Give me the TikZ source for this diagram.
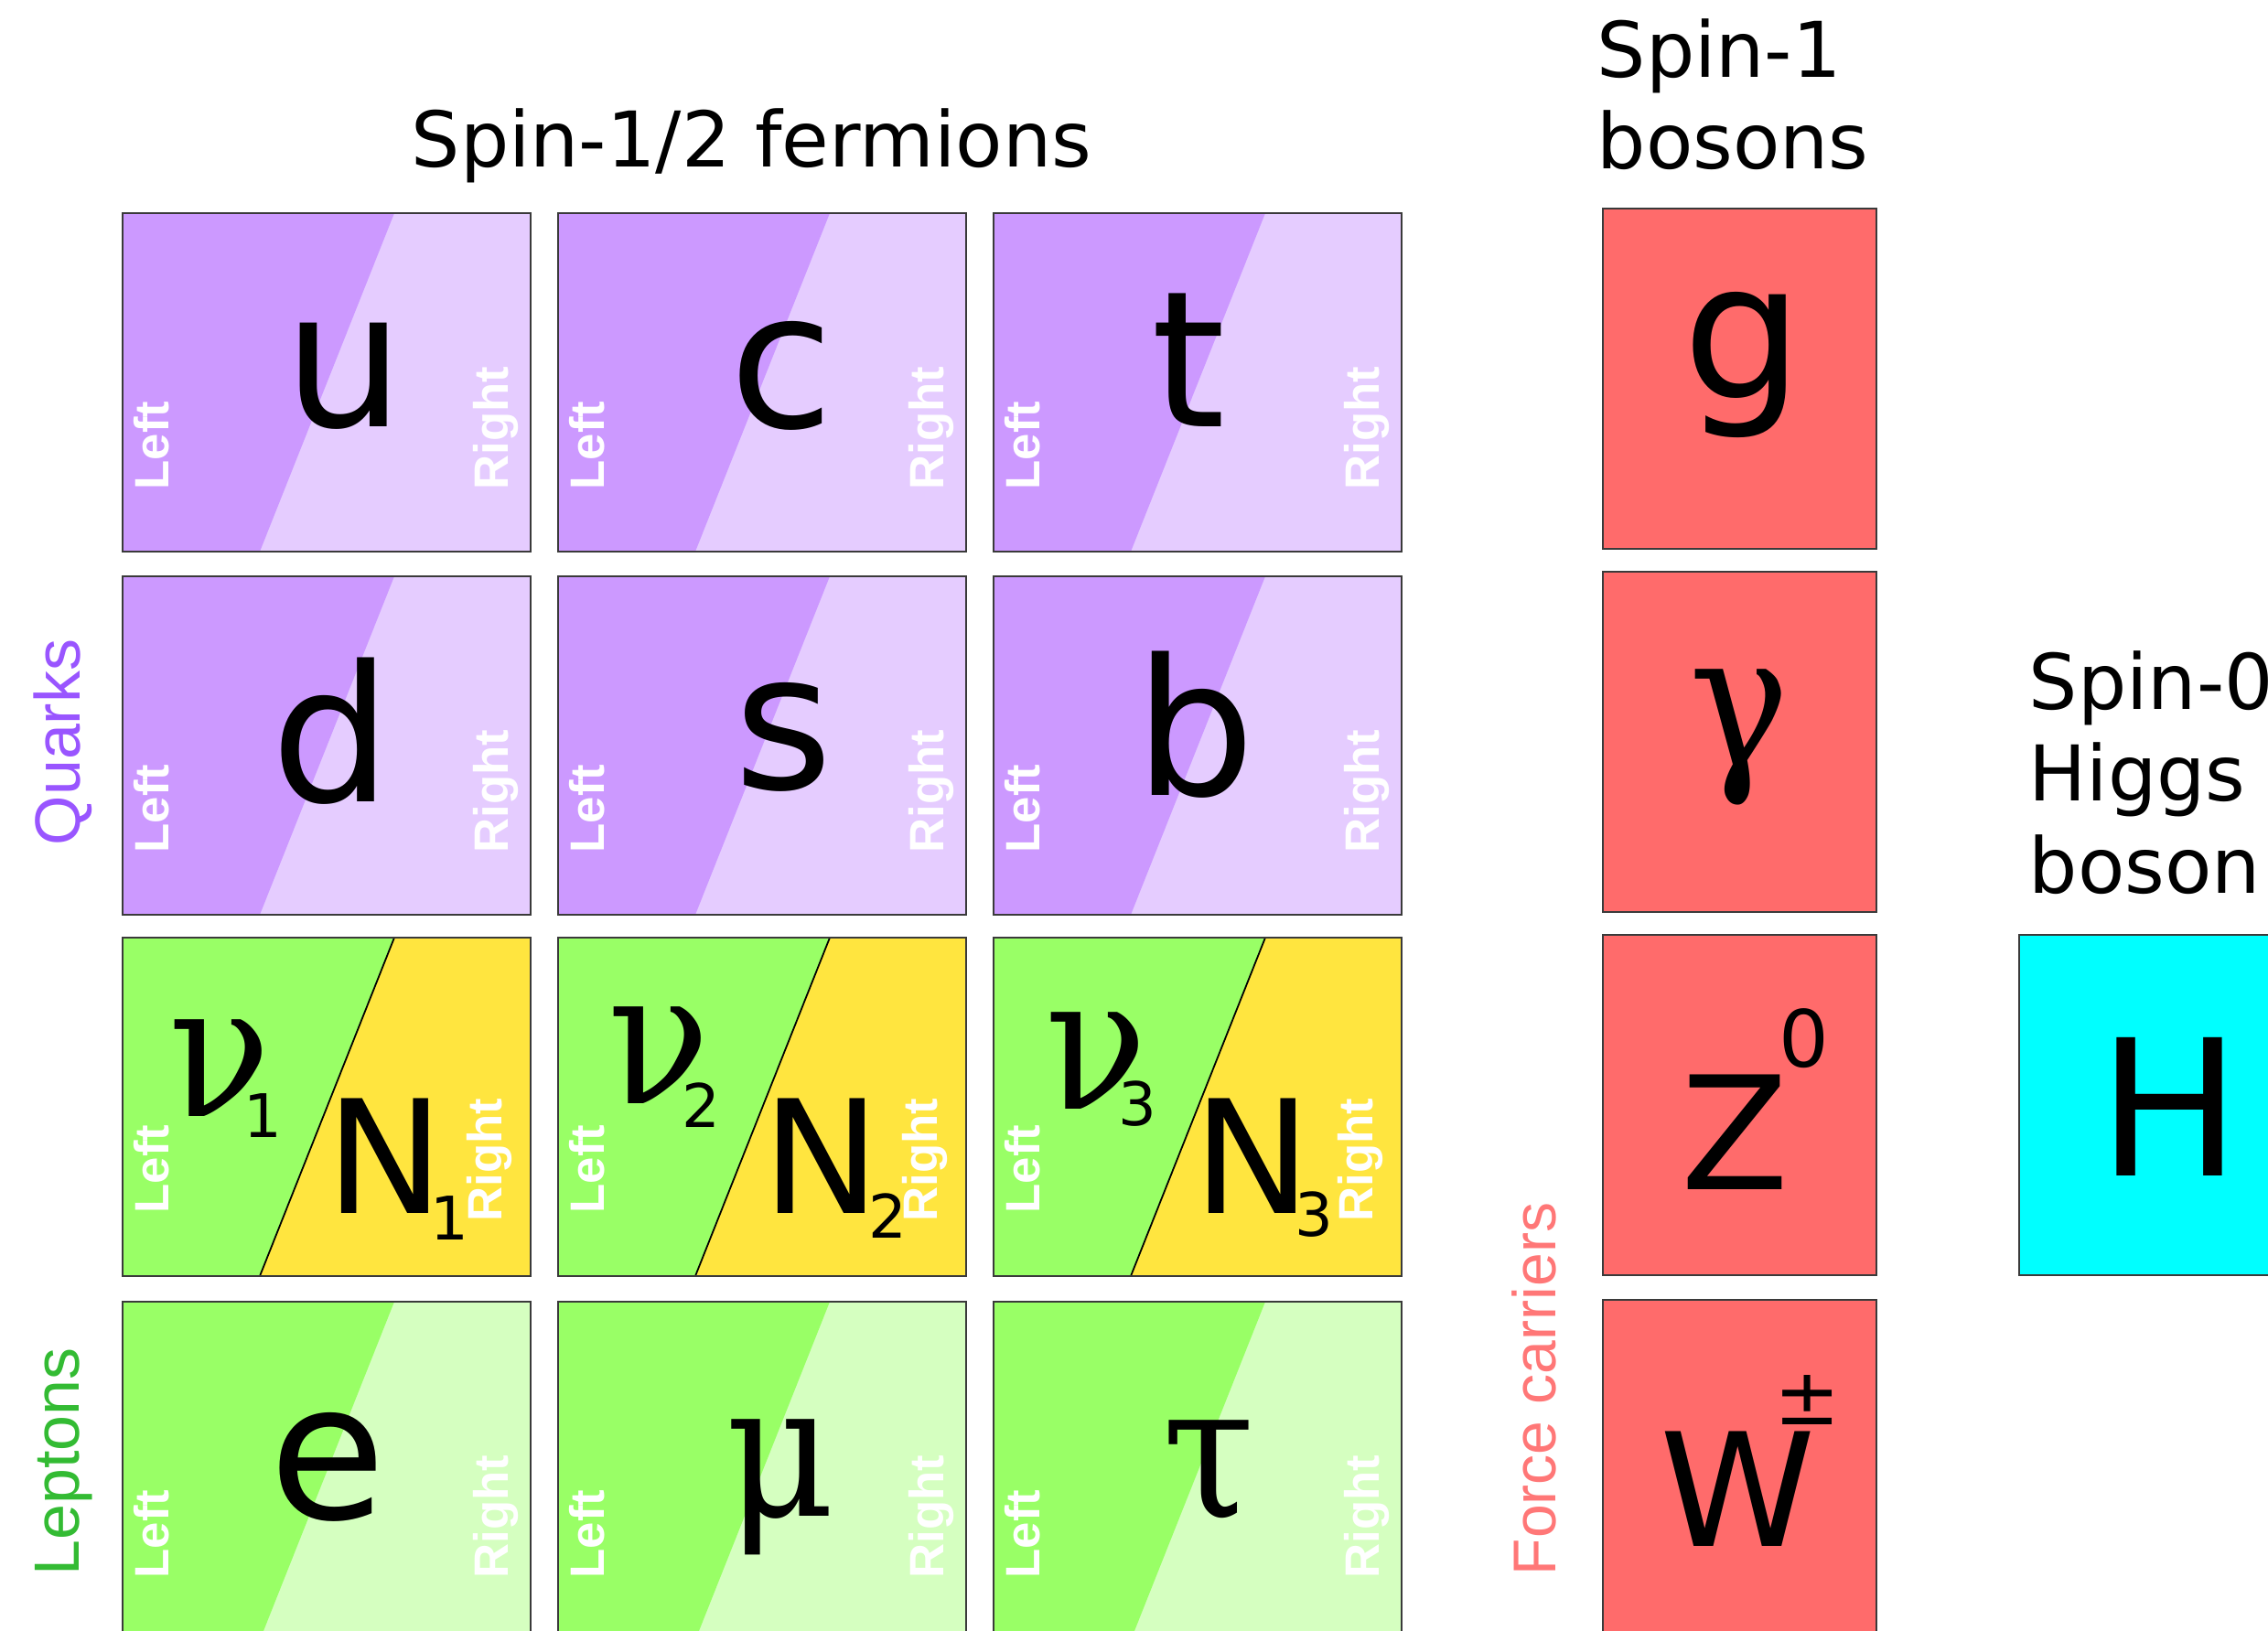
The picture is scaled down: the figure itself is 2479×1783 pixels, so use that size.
\documentclass[tikz,border=0pt]{standalone}
\usepackage{fontspec}
\setmainfont{DejaVu Sans}
\newfontfamily\grfont{DejaVu Serif Condensed}
\newfontfamily\arfont{Liberation Sans}
\definecolor{qdark}{HTML}{CC99FF}
\definecolor{qlight}{HTML}{E5CCFF}
\definecolor{ldark}{HTML}{99FF66}
\definecolor{llight}{HTML}{D5FFC0}
\definecolor{nyellow}{HTML}{FFE53F}
\definecolor{bred}{HTML}{FF6B6B}
\definecolor{hcyan}{HTML}{00FFFF}
\definecolor{qlabel}{HTML}{9955FF}
\definecolor{llabel}{HTML}{33BB33}
\definecolor{flabel}{HTML}{FF7777}
\definecolor{edge}{HTML}{3A3A3A}
\tikzset{
 boxedge/.style={draw=edge,line width=0.8pt},
 sym/.style={inner sep=0pt,anchor=base,font=\fontsize{59pt}{59pt}\selectfont},
 grsym/.style={inner sep=0pt,anchor=base,font=\grfont\fontsize{58pt}{58pt}\selectfont},
 nsym/.style={inner sep=0pt,anchor=base,font=\fontsize{49pt}{49pt}\selectfont},
 subsym/.style={inner sep=0pt,anchor=base,font=\fontsize{18.7pt}{18.7pt}\selectfont},
 supsym/.style={inner sep=0pt,anchor=base,font=\fontsize{24.5pt}{24.5pt}\selectfont},
 hand/.style={inner sep=0pt,rotate=90,anchor=base west,text=white,font=\arfont\bfseries\fontsize{15pt}{15pt}\selectfont},
 heading/.style={inner sep=0pt,anchor=base west,font=\fontsize{23.9pt}{23.9pt}\selectfont},
 grouplabel/.style={inner sep=0pt,rotate=90,anchor=base west,font=\arfont\fontsize{19.9pt}{19.9pt}\selectfont},
}
% charged fermion box: X Y dark light name
\newcommand\chbox[5]{%
 \fill[#4] (#1,#2) rectangle ++(446,370);
 \fill[#3] (#1,#2) -- ++(297,0) -- ++(-147,370) -- ++(-150,0) -- cycle;
 \draw[boxedge] (#1,#2) rectangle ++(446,370);
 \node[hand] (#5-L) at (#1+50,#2+303) {Left};
 \node[hand] (#5-R) at (#1+421,#2+303) {Right};
}
% neutrino box: X Y name
\newcommand\nubox[3]{%
 \fill[ldark] (#1,#2) rectangle ++(446,370);
 \fill[nyellow] (#1+297,#2) -- ++(149,0) -- ++(0,370) -- ++(-296,0) -- cycle;
 \draw[black,line width=0.5pt] (#1+297,#2) -- ++(-147,370);
 \draw[boxedge] (#1,#2) rectangle ++(446,370);
 \node[hand] (#3-L) at (#1+50,#2+302) {Left};
 \node[hand] (#3-R) at (#1+414,#2+311) {Right};
}
% boson box: X Y colour name
\newcommand\bbox[4]{%
 \fill[#3] (#1,#2) rectangle ++(299,372);
 \draw[boxedge] (#1,#2) rectangle ++(299,372);
}
\begin{document}
\begin{tikzpicture}[x=0.1mm,y=-0.1mm]
\useasboundingbox (0,0) rectangle (2479,1783);
\clip (0,0) rectangle (2479,1783);
\fill[white] (0,0) rectangle (2479,1783);

% headings
\node[heading] (h12) at (449,183) {Spin-1/2 fermions};
\node[heading] (h1a) at (1745,85) {Spin-1};
\node[heading] (h1b) at (1745,185) {bosons};
\node[heading] (h0a) at (2217,776) {Spin-0};
\node[heading] (h0b) at (2217,876) {Higgs};
\node[heading] (h0c) at (2217,977) {boson};

% group labels
\node[grouplabel,text=qlabel] (quarks) at (88,925) {Quarks};
\node[grouplabel,text=llabel] (leptons) at (86,1723) {Leptons};
\node[grouplabel,text=flabel,font=\arfont\fontsize{18.8pt}{18.8pt}\selectfont] (force) at (1700,1723) {Force carriers};

% quarks
\chbox{134}{233}{qdark}{qlight}{u}
\chbox{610}{233}{qdark}{qlight}{c}
\chbox{1086}{233}{qdark}{qlight}{t}
\chbox{134}{630}{qdark}{qlight}{d}
\chbox{610}{630}{qdark}{qlight}{s}
\chbox{1086}{630}{qdark}{qlight}{b}
\node[sym] (su) at (376,467) {u};
\node[sym] (sc) at (854,468) {c};
\node[sym] (st) at (1299,467) {t};
\node[sym] (sd) at (362,877) {d};
\node[sym] (ss) at (857,863) {s};
\node[sym] (sb) at (1306,870) {b};

% neutrinos
\nubox{134}{1025}{n1}
\nubox{610}{1025}{n2}
\nubox{1086}{1025}{n3}
\node[grsym] (nu1) at (240,1221) {ν};
\node[subsym] (nu1s) at (287,1244) {1};
\node[nsym] (N1) at (421,1327) {N};
\node[subsym] (N1s) at (491,1356) {1};
\node[grsym] (nu2) at (720,1207) {ν};
\node[subsym] (nu2s) at (766,1232) {2};
\node[nsym] (N2) at (898,1327) {N};
\node[subsym] (N2s) at (970,1353) {2};
\node[grsym] (nu3) at (1198,1213) {ν};
\node[subsym] (nu3s) at (1243,1231) {3};
\node[nsym] (N3) at (1369,1327) {N};
\node[subsym] (N3s) at (1436,1351) {3};

% charged leptons
\chbox{134}{1423}{ldark}{llight}{e}
\chbox{610}{1423}{ldark}{llight}{mu}
\chbox{1086}{1423}{ldark}{llight}{tau}
\node[sym] (se) at (358,1660) {e};
\node[grsym] (smu) at (853,1657) {μ};
\node[grsym] (stau) at (1321,1658) {τ};

% bosons
\bbox{1752}{228}{bred}{g}
\bbox{1752}{625}{bred}{gam}
\bbox{1752}{1022}{bred}{Z}
\bbox{1752}{1421}{bred}{W}
\node[sym] (sg) at (1905,436) {g};
\node[grsym] (sgam) at (1901,838) {γ};
\node[nsym] (sZ) at (1896,1300) {Z};
\node[supsym] (sZs) at (1972,1167) {0};
\node[nsym] (sW) at (1900,1690) {W};
\node[supsym] (sWs) at (1976,1557) {±};

% Higgs
\fill[hcyan] (2207,1022) rectangle (2520,1394);
\draw[boxedge] (2520,1022) -- (2207,1022) -- (2207,1394) -- (2520,1394);
\node[sym] (sH) at (2371,1286) {H};
\end{tikzpicture}
\end{document}
